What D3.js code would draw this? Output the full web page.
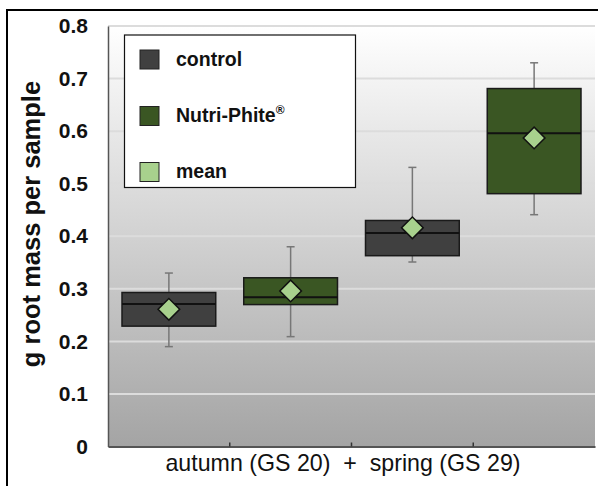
<!DOCTYPE html>
<html>
<head>
<meta charset="utf-8">
<script src="https://cdn.jsdelivr.net/npm/d3@7"></script>
<style>
  body { margin: 0; background: #fff; }
  text { font-family: "Liberation Sans", Arial, sans-serif; }
</style>
</head>
<body>
<svg id="chart" width="598" height="486"></svg>
<script>
// data
var groups = ["autumn control", "autumn Nutri-Phite", "spring control", "spring Nutri-Phite"];
var treatment = ["control", "nutri", "control", "nutri"];
var whiskerLow = [0.19, 0.209, 0.351, 0.441];
var boxLow = [0.229, 0.270, 0.363, 0.481];
var medians = [0.271, 0.284, 0.406, 0.596];
var boxHigh = [0.293, 0.321, 0.430, 0.681];
var whiskerHigh = [0.330, 0.380, 0.531, 0.730];
var means = [0.261, 0.296, 0.416, 0.587];
var yTicks = [0, 0.1, 0.2, 0.3, 0.4, 0.5, 0.6, 0.7, 0.8];
var legendItems = ["control", "Nutri-Phite", "mean"];

var colors = { control: "#404040", nutri: "#3a5623", mean: "#a8d18d" };

var svg = d3.select("#chart");
var plotLeft = 108, plotRight = 595, plotTop = 26, plotBottom = 446.5;

var x = d3.scaleBand().domain(groups).range([plotLeft, plotRight]).paddingInner(0).paddingOuter(0);
var y = d3.scaleLinear().domain([0, 0.8]).range([plotBottom, plotTop]);

// outer frame (left and top only visible)
svg.append("path")
    .attr("d", "M7,486 L7,10 L598,10")
    .attr("fill", "none")
    .attr("stroke", "#000")
    .attr("stroke-width", 2);

// background gradient
var grad = svg.append("defs").append("linearGradient")
    .attr("id", "bg").attr("x1", 0).attr("y1", 0).attr("x2", 0).attr("y2", 1);
grad.append("stop").attr("offset", "0%").attr("stop-color", "#ffffff");
grad.append("stop").attr("offset", "100%").attr("stop-color", "#a4a4a4");

svg.append("rect")
    .attr("x", plotLeft).attr("y", plotTop)
    .attr("width", plotRight - plotLeft).attr("height", plotBottom - plotTop)
    .attr("fill", "url(#bg)");

// grid lines
svg.append("g").selectAll("line")
    .data(yTicks.slice(1))
    .enter().append("line")
    .attr("x1", plotLeft).attr("x2", plotRight)
    .attr("y1", function (d) { return y(d); })
    .attr("y2", function (d) { return y(d); })
    .attr("stroke", "#dcdcdc")
    .attr("stroke-width", 2);

// axes
var yAxis = svg.append("g")
    .attr("transform", "translate(" + plotLeft + ",0)")
    .call(d3.axisLeft(y).tickValues(yTicks).tickSize(0).tickPadding(20)
        .tickFormat(function (d) { return d === 0 ? "0" : d3.format(".1f")(d); }));
yAxis.select(".domain").attr("stroke", "#555").attr("stroke-width", 1.5);
yAxis.selectAll("text")
    .attr("font-size", 21).attr("font-weight", "bold").attr("fill", "#111")
    .attr("font-family", "Liberation Sans, Arial, sans-serif");

var xAxis = svg.append("g")
    .attr("transform", "translate(0," + plotBottom + ")")
    .call(d3.axisBottom(x).tickSize(0).tickFormat(""));
xAxis.select(".domain").attr("stroke", "#555").attr("stroke-width", 2);

// small tick marks between the groups, pointing up into the plot
svg.append("g").selectAll("line")
    .data(groups.slice(1))
    .enter().append("line")
    .attr("x1", function (d) { return x(d); })
    .attr("x2", function (d) { return x(d); })
    .attr("y1", plotBottom).attr("y2", plotBottom - 4)
    .attr("stroke", "#333").attr("stroke-width", 1.5);

svg.append("text")
    .attr("x", 343).attr("y", 471)
    .attr("text-anchor", "middle")
    .attr("font-size", 23.2)
    .attr("fill", "#111")
    .style("white-space", "pre")
    .text("autumn (GS 20)  +  spring (GS 29)");

svg.append("text")
    .attr("transform", "translate(40,224) rotate(-90)")
    .attr("text-anchor", "middle")
    .attr("font-size", 25.5)
    .attr("font-weight", "bold")
    .attr("fill", "#111")
    .text("g root mass per sample");

// boxes
var bw = x.bandwidth() * 0.77;
var boxes = svg.append("g").selectAll("g")
    .data(groups)
    .enter().append("g");

boxes.each(function (d, i) {
    var g = d3.select(this);
    var cx = x(d) + x.bandwidth() / 2;
    g.append("line")
        .attr("x1", cx).attr("x2", cx)
        .attr("y1", y(whiskerLow[i])).attr("y2", y(whiskerHigh[i]))
        .attr("stroke", "#777").attr("stroke-width", 1.5);
    [whiskerLow[i], whiskerHigh[i]].forEach(function (v) {
        g.append("line")
            .attr("x1", cx - 4).attr("x2", cx + 4)
            .attr("y1", y(v)).attr("y2", y(v))
            .attr("stroke", "#777").attr("stroke-width", 1.5);
    });
    g.append("rect")
        .attr("x", cx - bw / 2).attr("width", bw)
        .attr("y", y(boxHigh[i])).attr("height", y(boxLow[i]) - y(boxHigh[i]))
        .attr("fill", colors[treatment[i]])
        .attr("stroke", "#1a1a1a").attr("stroke-width", 1.5);
    g.append("line")
        .attr("x1", cx - bw / 2).attr("x2", cx + bw / 2)
        .attr("y1", y(medians[i])).attr("y2", y(medians[i]))
        .attr("stroke", "#111").attr("stroke-width", 2);
    g.append("path")
        .attr("d", d3.symbol().type(d3.symbolSquare).size(235)())
        .attr("transform", "translate(" + cx + "," + y(means[i]) + ") rotate(45)")
        .attr("fill", colors.mean)
        .attr("stroke", "#111").attr("stroke-width", 1.5);
});

// legend
var legend = svg.append("g");
legend.append("rect")
    .attr("x", 124.5).attr("y", 35)
    .attr("width", 231).attr("height", 152.5)
    .attr("fill", "#fff").attr("stroke", "#111").attr("stroke-width", 1.2);

var legendColors = [colors.control, colors.nutri, colors.mean];
var legendY = [50, 106.5, 162.5];
legendItems.forEach(function (name, i) {
    legend.append("rect")
        .attr("x", 140).attr("y", legendY[i])
        .attr("width", 19).attr("height", 19)
        .attr("fill", legendColors[i])
        .attr("stroke", "#222").attr("stroke-width", 1);
    var t = legend.append("text")
        .attr("x", 176).attr("y", legendY[i] + 15.5)
        .attr("font-size", 19.5).attr("font-weight", "bold").attr("fill", "#111")
        .text(name);
    if (name === "Nutri-Phite") {
        t.append("tspan").attr("dy", -8).attr("font-size", 12).text("®");
    }
});
</script>
</body>
</html>
